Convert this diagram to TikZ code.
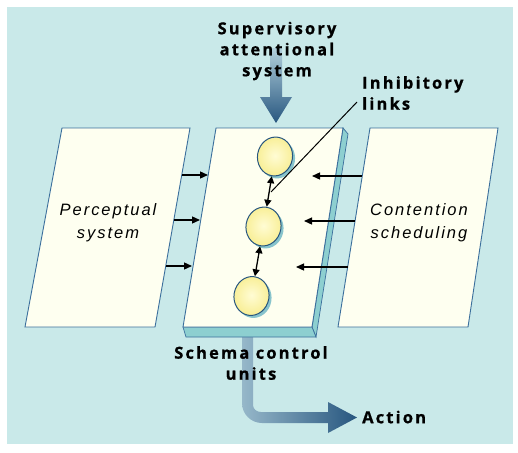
\documentclass[tikz,border=0pt]{standalone}
\usepackage{fontspec}
\setmainfont{Liberation Sans}
\newfontfamily\labfont[LetterSpace=13,BoldFeatures={FakeBold=0.8}]{Open Sans}
\newfontfamily\itfont[LetterSpace=12]{Liberation Sans}
\usetikzlibrary{arrows.meta,shapes.geometric,shadows}
\definecolor{bgc}{HTML}{C9E9E9}
\definecolor{cream}{HTML}{FEFFF0}
\definecolor{edgec}{HTML}{3B6F9C}
\definecolor{slabc}{HTML}{8DCFD0}
\definecolor{slabd}{HTML}{7CC2C6}
\definecolor{shadc}{HTML}{88C4CC}
\definecolor{ellin}{HTML}{FFFCD4}
\definecolor{ellout}{HTML}{F8EE94}
\definecolor{arrdark}{HTML}{27567F}
\definecolor{arrlight}{HTML}{B2D0DC}
\tikzset{
  panel/.style={fill=cream,draw=edgec,line width=0.9pt,line join=miter},
  face/.style={fill=slabc,draw=edgec,line width=0.7pt},
  ell/.style={ellipse,draw=arrdark,line width=1pt,inner color=ellin,outer color=ellout,
    minimum width=35pt,minimum height=39pt,inner sep=0pt,
    general shadow={fill=shadc,shadow xshift=2.5pt,shadow yshift=-2.5pt}},
  lab/.style={font=\labfont\bfseries\fontsize{16.5}{21}\selectfont,align=center,inner sep=0pt},
  itlab/.style={font=\itfont\itshape\fontsize{16.5}{23}\selectfont,align=center,inner sep=0pt},
  sarr/.style={line width=1.3pt,-{Triangle[length=8pt,width=7pt]}},
  darr/.style={line width=1.3pt,{Triangle[length=7pt,width=7pt]}-{Triangle[length=7pt,width=7pt]}},
}
\begin{document}
\begin{tikzpicture}[x=1pt,y=-1pt]
\useasboundingbox (0,0) rectangle (518,452);
\fill[white] (0,0) rectangle (518,452);
\fill[bgc] (7,7) rectangle (513,444);
% top big arrow
\shade[top color=arrlight,bottom color=arrdark]
  (270,48) -- (282,48) -- (282,97) -- (292,97) -- (276,123) -- (260,97) -- (270,97) -- cycle;
% bottom big arrow
\shade[left color=arrlight!80!arrdark,right color=arrdark]
  (242,330) -- (253,330) -- (253,405) to[out=-90,in=180] (261,412) -- (328,412) -- (328,402)
  -- (357,417.5) -- (328,433) -- (328,423) -- (262,423) to[out=180,in=-90] (242,403) -- cycle;
% panels
\draw[panel] (62,128) -- (190,128) -- (155,327) -- (25,327) -- cycle;
\draw[panel] (370,128) -- (498,128) -- (468,327) -- (338,327) -- cycle;
% middle slab
\draw[face] (343,128) -- (348,134) -- (316,337) -- (312,327) -- cycle;
\draw[face] (183,327) -- (312,327) -- (316,337) -- (186,337) -- cycle;
\draw[panel] (216,128) -- (343,128) -- (312,327) -- (183,327) -- cycle;
% ellipses
\node[ell,rotate=-10] (e1) at (275,156.5) {};
\node[ell,rotate=-10] (e2) at (263.5,226.5) {};
\node[ell,rotate=-10] (e3) at (251.5,296) {};
\draw[darr] (e1) -- (e2);
\draw[darr] (e2) -- (e3);
% labels
\node[lab] (sas) at (277,51) {Supervisory\\attentional\\system};
\node[lab,align=left,anchor=west] (inl) at (362,93) {Inhibitory\\links};
\node[lab] (scu) at (251,363) {Schema control\\units};
\node[lab,anchor=west] (act) at (362,417) {Action};
\node[itlab] (per) at (108,223) {Perceptual\\system};
\node[itlab] (con) at (419,223) {Contention\\scheduling};
% inhibitory link line
\coordinate (il1) at (357,102);
\coordinate (il2) at (271,192);
\draw[line width=1pt] (il1) -- (il2);
% left arrows
\coordinate (l1s) at (182,175); \coordinate (l1e) at (208,175);
\coordinate (l2s) at (174,220); \coordinate (l2e) at (200,220);
\coordinate (l3s) at (166,266); \coordinate (l3e) at (192,266);
\draw[sarr] (l1s) -- (l1e);
\draw[sarr] (l2s) -- (l2e);
\draw[sarr] (l3s) -- (l3e);
% right arrows
\coordinate (r1s) at (362,176); \coordinate (r1e) at (312,176);
\coordinate (r2s) at (355,221); \coordinate (r2e) at (304,221);
\coordinate (r3s) at (348,267); \coordinate (r3e) at (296,267);
\draw[sarr] (r1s) -- (r1e);
\draw[sarr] (r2s) -- (r2e);
\draw[sarr] (r3s) -- (r3e);
\end{tikzpicture}
\end{document}
